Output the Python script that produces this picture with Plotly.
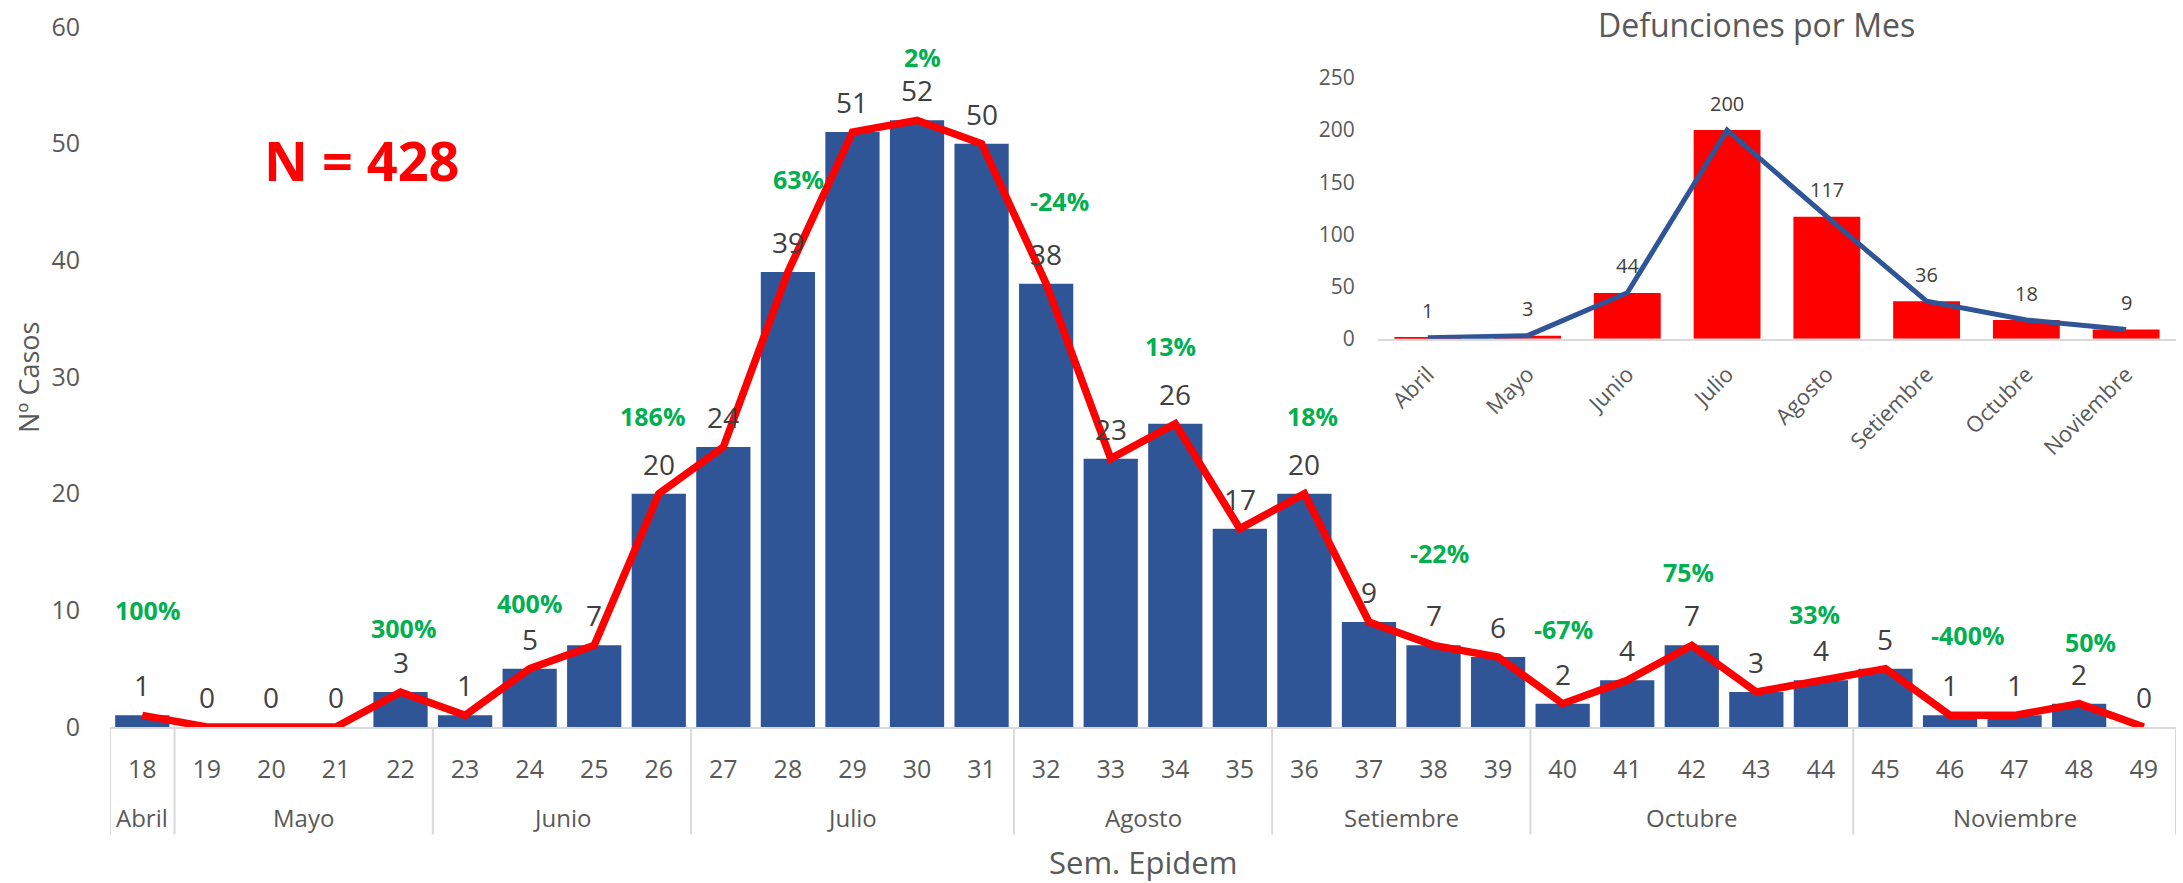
import plotly.graph_objects as go

# ---------------- data ----------------
weeks = list(range(18, 50))
cases = [1, 0, 0, 0, 3, 1, 5, 7, 20, 24, 39, 51, 52, 50, 38, 23, 26, 17, 20, 9,
         7, 6, 2, 4, 7, 3, 4, 5, 1, 1, 2, 0]

months = ["Abril", "Mayo", "Junio", "Julio", "Agosto", "Setiembre", "Octubre", "Noviembre"]
month_first_week = [18, 19, 23, 27, 32, 36, 40, 45]
month_last_week = [18, 22, 26, 31, 35, 39, 44, 49]

deaths = [1, 3, 44, 200, 117, 36, 18, 9]

pct_labels = ["100%", "300%", "400%", "186%", "63%", "2%", "-24%", "13%", "18%",
              "-22%", "-67%", "75%", "33%", "-400%", "50%"]
pct_x = [18.08, 22.05, 23.99, 25.9, 28.17, 30.08, 32.2, 33.92, 36.12, 38.09,
         40.01, 41.95, 43.9, 46.27, 48.17]
pct_y = [10.0, 8.5, 10.6, 26.7, 47.0, 57.4, 45.1, 32.7, 26.7, 14.9, 8.4, 13.3,
         9.7, 7.9, 7.3]

total_label = "N = 428"

# ---------------- styles ----------------
FONT = "Open Sans"
BLUE = "#2F5597"
RED = "#FF0000"
GREEN = "#00B050"
GRAY = "#595959"
DARK = "#404040"
LINE = "#D9D9D9"

fig = go.Figure()

# main chart
fig.add_trace(go.Bar(x=weeks, y=cases, marker_color=BLUE, marker_line_width=0,
                     xaxis="x", yaxis="y", hoverinfo="skip"))
fig.add_trace(go.Scatter(x=weeks, y=cases, mode="lines",
                         line=dict(color=RED, width=7.5), xaxis="x", yaxis="y",
                         hoverinfo="skip"))

# inset chart
fig.add_trace(go.Bar(x=months, y=deaths, marker_color=RED, marker_line_width=0,
                     width=0.67, xaxis="x2", yaxis="y2", hoverinfo="skip"))
fig.add_trace(go.Scatter(x=months, y=deaths, mode="lines",
                         line=dict(color=BLUE, width=5), xaxis="x2", yaxis="y2",
                         hoverinfo="skip"))

annotations = []
# value labels main chart
for w, v in zip(weeks, cases):
    annotations.append(dict(x=w, y=v, xref="x", yref="y", text=str(v), showarrow=False,
                            yshift=30, font=dict(family=FONT, size=28, color=DARK)))
# percentage labels
for t, x, y in zip(pct_labels, pct_x, pct_y):
    annotations.append(dict(x=x, y=y, xref="x", yref="y", text=f"<b>{t}</b>", showarrow=False,
                            font=dict(family=FONT, size=25, color=GREEN)))
# month labels
for m, a, b in zip(months, month_first_week, month_last_week):
    annotations.append(dict(x=(a + b) / 2, y=-0.129, xref="x", yref="paper", text=m,
                            showarrow=False, xanchor="center", yanchor="middle",
                            font=dict(family=FONT, size=24, color=GRAY)))
# axis titles
annotations.append(dict(x=0.5, y=-0.193, xref="paper", yref="paper", text="Sem. Epidem",
                        showarrow=False, xanchor="center", yanchor="middle",
                        font=dict(family=FONT, size=31, color=GRAY)))
annotations.append(dict(x=-0.0397, y=0.5, xref="paper", yref="paper", text="Nº Casos",
                        showarrow=False, textangle=-90, xanchor="center", yanchor="middle",
                        font=dict(family=FONT, size=27, color=GRAY)))
# N label
annotations.append(dict(x=21.4, y=48.6, xref="x", yref="y", text=f"<b>{total_label}</b>",
                        showarrow=False, xanchor="center", yanchor="middle",
                        font=dict(family=FONT, size=54, color=RED)))
# inset labels
for m, v in zip(months, deaths):
    annotations.append(dict(x=m, y=v, xref="x2", yref="y2", text=str(v), showarrow=False,
                            yshift=27, font=dict(family=FONT, size=20, color=DARK)))
annotations.append(dict(x=0.797, y=1.003, xref="paper", yref="paper",
                        text="Defunciones por Mes", showarrow=False,
                        xanchor="center", yanchor="middle",
                        font=dict(family=FONT, size=32, color=GRAY)))

# month separators
shapes = []
bounds = [month_first_week[0] - 0.5] + [w + 0.5 for w in month_last_week]
for b in bounds:
    shapes.append(dict(type="line", xref="x", yref="paper", x0=b, x1=b, y0=0, y1=-0.1535,
                       line=dict(color=LINE, width=2)))

fig.update_layout(
    width=2183, height=883,
    margin=dict(l=110, r=7, t=27, b=156),
    paper_bgcolor="white", plot_bgcolor="white",
    showlegend=False, bargap=0.16,
    font=dict(family=FONT, color=GRAY),
    annotations=annotations, shapes=shapes,
    xaxis=dict(range=[17.5, 49.5], tickmode="array", tickvals=weeks,
               ticktext=[str(w) for w in weeks], showgrid=False, zeroline=False,
               showline=True, linecolor=LINE, linewidth=2,
               ticks="outside", ticklen=19, tickcolor="rgba(0,0,0,0)",
               tickfont=dict(family=FONT, size=25, color=GRAY)),
    yaxis=dict(range=[0, 60], dtick=10, showgrid=False, zeroline=False, showline=False,
               ticks="outside", ticklen=24, tickcolor="rgba(0,0,0,0)",
               tickfont=dict(family=FONT, size=25, color=GRAY)),
    xaxis2=dict(domain=[0.6137, 1.0], anchor="y2", showgrid=False, zeroline=False,
                showline=True, linecolor=LINE, linewidth=2, tickangle=-45,
                ticks="outside", ticklen=12, tickcolor="rgba(0,0,0,0)",
                tickfont=dict(family=FONT, size=22, color=GRAY)),
    yaxis2=dict(domain=[0.5546, 0.9272], anchor="x2", range=[0, 250], dtick=50,
                showgrid=False, zeroline=False, showline=False,
                ticks="outside", ticklen=18, tickcolor="rgba(0,0,0,0)",
                tickfont=dict(family=FONT, size=21, color=GRAY)),
)

fig.write_html("out.html", config={"displayModeBar": False},
               post_script="document.body.style.margin='0px';")
